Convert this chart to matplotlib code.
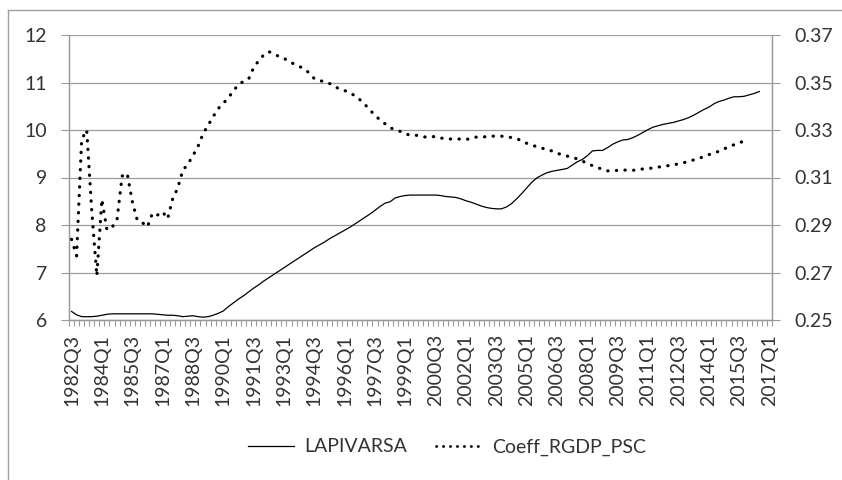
import matplotlib
matplotlib.use('Agg')
import matplotlib.pyplot as plt
from matplotlib.lines import Line2D
import numpy as np

# quarters 1982Q3 .. 2017Q1
start_year, start_q = 1982, 3
n_quarters = 139
quarters = ['{}Q{}'.format(start_year + (start_q - 1 + k) // 4, (start_q - 1 + k) % 4 + 1)
            for k in range(n_quarters)]

# LAPIVARSA (left axis), 1982Q3 .. 2016Q3
lapivarsa = [
    6.18, 6.11, 6.07, 6.07, 6.07, 6.08, 6.10, 6.12, 6.13, 6.13,
    6.13, 6.13, 6.13, 6.13, 6.13, 6.13, 6.13, 6.12, 6.11, 6.10,
    6.10, 6.09, 6.07, 6.08, 6.09, 6.07, 6.06, 6.07, 6.10, 6.14,
    6.19, 6.28, 6.36, 6.44, 6.51, 6.59, 6.67, 6.74, 6.82, 6.89,
    6.96, 7.03, 7.10, 7.17, 7.24, 7.31, 7.38, 7.45, 7.52, 7.58,
    7.64, 7.71, 7.77, 7.83, 7.89, 7.95, 8.02, 8.09, 8.16, 8.23,
    8.31, 8.39, 8.46, 8.49, 8.57, 8.60, 8.62, 8.63, 8.63, 8.63,
    8.63, 8.63, 8.63, 8.62, 8.60, 8.59, 8.58, 8.55, 8.51, 8.48,
    8.44, 8.40, 8.37, 8.35, 8.34, 8.34, 8.38, 8.45, 8.55, 8.66,
    8.78, 8.90, 8.99, 9.05, 9.10, 9.13, 9.15, 9.17, 9.19, 9.26,
    9.33, 9.38, 9.46, 9.56, 9.57, 9.57, 9.63, 9.70, 9.75, 9.79,
    9.80, 9.84, 9.89, 9.95, 10.01, 10.06, 10.09, 10.12, 10.14, 10.16,
    10.19, 10.22, 10.26, 10.31, 10.37, 10.43, 10.48, 10.55, 10.60, 10.63,
    10.67, 10.70, 10.70, 10.71, 10.74, 10.77, 10.81,
]

# Coeff_RGDP_PSC (right axis), 1982Q3 .. 2015Q4
coeff = [
    0.2840, 0.2770, 0.3260, 0.3300, 0.2960, 0.2686, 0.3008, 0.2880, 0.2890, 0.2922,
    0.3106, 0.3118, 0.3000, 0.2920, 0.2910, 0.2892, 0.2950, 0.2942, 0.2956, 0.2926,
    0.3010, 0.3056, 0.3130, 0.3156, 0.3192, 0.3230, 0.3284, 0.3320, 0.3356, 0.3390,
    0.3412, 0.3436, 0.3464, 0.3492, 0.3504, 0.3514, 0.3562, 0.3592, 0.3616, 0.3630,
    0.3620, 0.3610, 0.3602, 0.3588, 0.3578, 0.3568, 0.3558, 0.3540, 0.3516, 0.3508,
    0.3504, 0.3496, 0.3484, 0.3472, 0.3466, 0.3458, 0.3444, 0.3428, 0.3408, 0.3384,
    0.3362, 0.3342, 0.3326, 0.3310, 0.3300, 0.3294, 0.3284, 0.3278, 0.3278, 0.3276,
    0.3270, 0.3272, 0.3272, 0.3266, 0.3264, 0.3262, 0.3262, 0.3262, 0.3260, 0.3264,
    0.3270, 0.3270, 0.3272, 0.3274, 0.3274, 0.3274, 0.3272, 0.3268, 0.3264, 0.3254,
    0.3244, 0.3236, 0.3230, 0.3224, 0.3216, 0.3212, 0.3202, 0.3196, 0.3190, 0.3186,
    0.3178, 0.3170, 0.3158, 0.3150, 0.3142, 0.3134, 0.3128, 0.3128, 0.3130, 0.3132,
    0.3130, 0.3130, 0.3134, 0.3136, 0.3138, 0.3140, 0.3144, 0.3146, 0.3150, 0.3152,
    0.3158, 0.3162, 0.3168, 0.3174, 0.3180, 0.3188, 0.3196, 0.3204, 0.3210, 0.3220,
    0.3230, 0.3238, 0.3244, 0.3256,
]

left_ticks = [6, 7, 8, 9, 10, 11, 12]
right_ticks = [0.25, 0.27, 0.29, 0.31, 0.33, 0.35, 0.37]
label_step = 6

plt.rcParams['font.family'] = ['Lato', 'DejaVu Sans']
text_col = '#333333'
grid_col = '#9a9a9a'
fs = 14

fig = plt.figure(figsize=(8.42, 4.8), dpi=100)
W, H = 842.0, 480.0
ax = fig.add_axes([69 / W, 1 - 320 / H, (772 - 69) / W, (320 - 35) / H])
ax2 = ax.twinx()

ax.plot(np.arange(len(lapivarsa)), lapivarsa, color='black', lw=0.9)
ax2.plot(np.arange(len(coeff)), coeff, color='black', lw=2.3,
         linestyle=(0, (0.1, 2.6)), dash_capstyle='round')

ax.set_xlim(-0.5, n_quarters - 0.5)
ax.set_ylim(6, 12)
ax2.set_ylim(0.25, 0.37)
ax.set_yticks(left_ticks)
ax.set_yticklabels([str(v) for v in left_ticks])
ax2.set_yticks(right_ticks)
ax2.set_yticklabels(['{:.2f}'.format(v) for v in right_ticks])

pos = np.arange(0, n_quarters, label_step)
ax.set_xticks(pos)
ax.set_xticklabels([quarters[p] for p in pos], rotation=90)
ax.set_xticks(np.arange(-0.5, n_quarters, 1), minor=True)
ax.tick_params(axis='x', which='major', length=0, pad=10, labelsize=fs, labelcolor=text_col)
ax.tick_params(axis='x', which='minor', length=4, width=0.8, color=grid_col)
ax.tick_params(axis='y', length=6, width=0.8, color=grid_col, pad=10,
               labelsize=fs, labelcolor=text_col)
ax2.tick_params(axis='y', length=6, width=0.8, color=grid_col, pad=10,
                labelsize=fs, labelcolor=text_col)

ax.grid(axis='y', color=grid_col, lw=0.9)
ax.set_axisbelow(True)
for a in (ax, ax2):
    a.spines['top'].set_visible(False)
    for s in ('left', 'right', 'bottom'):
        a.spines[s].set_color(grid_col)
        a.spines[s].set_linewidth(0.9)

handles = [Line2D([], [], color='black', lw=0.9),
           Line2D([], [], color='black', lw=2.0, linestyle=(0, (0.1, 2.4)),
                  dash_capstyle='round')]
fig.legend(handles, ['LAPIVARSA', 'Coeff_RGDP_PSC'], loc='center',
           bbox_to_anchor=(447 / W, 1 - 447 / H), ncol=2, frameon=False,
           fontsize=fs, labelcolor=text_col, handlelength=2.4,
           handletextpad=0.5, columnspacing=1.5)

# chart area border (runs off the right and bottom edge)
fig.add_artist(Line2D([7.5 / W, 7.5 / W], [0, 1 - 9.5 / H], color='#a0a0a0', lw=1.0))
fig.add_artist(Line2D([7.5 / W, 1], [1 - 9.5 / H, 1 - 9.5 / H], color='#a0a0a0', lw=1.0))

fig.savefig('out.png', dpi=100)
